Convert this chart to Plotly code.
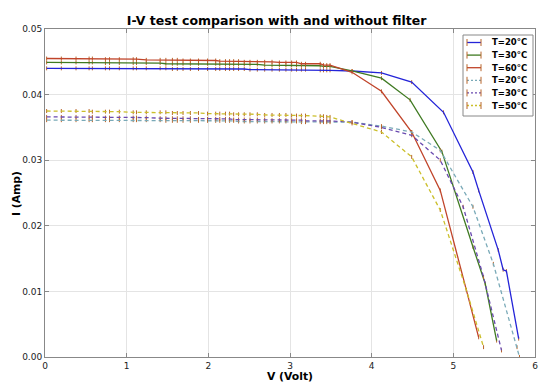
import plotly.graph_objects as go

# ---- data ----
v_flat = [0.02, 0.20, 0.38, 0.54, 0.58, 0.74, 0.79, 0.91, 1.08, 1.12,
          1.24, 1.41, 1.48, 1.56, 1.62, 1.69, 1.78, 1.88, 1.99, 2.09,
          2.14, 2.21, 2.26, 2.31, 2.37, 2.44, 2.51, 2.60, 2.69, 2.78,
          2.87, 2.95, 3.02, 3.08, 3.14, 3.19, 3.37, 3.41, 3.45, 3.49]

# without filter (solid)
v_s20 = v_flat + [3.76, 4.12, 4.49, 4.88, 5.24, 5.31, 5.55, 5.61, 5.65, 5.80]
i_s20 = [0.0440, 0.0440, 0.0440, 0.0440, 0.0440, 0.0440, 0.0440, 0.0440, 0.0440, 0.0440,
         0.0440, 0.0440, 0.0440, 0.0439, 0.0439, 0.0439, 0.0439, 0.0439, 0.0439, 0.0439,
         0.0439, 0.0439, 0.0439, 0.0439, 0.0439, 0.0439, 0.0438, 0.0438, 0.0438, 0.0438,
         0.0438, 0.0438, 0.0438, 0.0438, 0.0438, 0.0438, 0.0437, 0.0437, 0.0437, 0.0437] + \
        [0.0436, 0.0433, 0.0419, 0.0373, 0.0282, 0.0254, 0.0163, 0.0133, 0.0131, 0.0028]

v_s30 = v_flat + [3.76, 4.12, 4.47, 4.86, 5.24, 5.39, 5.53]
i_s30 = [0.0449, 0.0449, 0.0449, 0.0449, 0.0449, 0.0448, 0.0448, 0.0448, 0.0448, 0.0448,
         0.0448, 0.0448, 0.0447, 0.0447, 0.0447, 0.0447, 0.0447, 0.0447, 0.0447, 0.0447,
         0.0446, 0.0446, 0.0446, 0.0446, 0.0446, 0.0446, 0.0446, 0.0446, 0.0445, 0.0445,
         0.0445, 0.0445, 0.0445, 0.0445, 0.0444, 0.0444, 0.0444, 0.0443, 0.0443, 0.0443] + \
        [0.0436, 0.0425, 0.0392, 0.0313, 0.0168, 0.0112, 0.0025]

v_s60 = v_flat + [3.76, 4.12, 4.49, 4.84, 5.16, 5.31]
i_s60 = [0.0455, 0.0455, 0.0455, 0.0455, 0.0455, 0.0454, 0.0454, 0.0454, 0.0454, 0.0454,
         0.0453, 0.0453, 0.0453, 0.0453, 0.0453, 0.0452, 0.0452, 0.0452, 0.0452, 0.0452,
         0.0451, 0.0451, 0.0451, 0.0451, 0.0451, 0.0450, 0.0450, 0.0450, 0.0450, 0.0450,
         0.0449, 0.0449, 0.0449, 0.0449, 0.0447, 0.0447, 0.0447, 0.0445, 0.0445, 0.0445] + \
        [0.0434, 0.0405, 0.0343, 0.0254, 0.0102, 0.0030]

# with filter (dashed)
v_d20 = v_flat + [3.76, 4.12, 4.49, 4.84, 5.24, 5.49, 5.78, 5.81]
i_d20 = [0.0361, 0.0361, 0.0361, 0.0361, 0.0361, 0.0361, 0.0361, 0.0361, 0.0361, 0.0361,
         0.0361, 0.0361, 0.0360, 0.0360, 0.0360, 0.0360, 0.0360, 0.0360, 0.0360, 0.0360,
         0.0360, 0.0360, 0.0360, 0.0360, 0.0359, 0.0359, 0.0359, 0.0359, 0.0359, 0.0359,
         0.0359, 0.0359, 0.0359, 0.0359, 0.0358, 0.0358, 0.0358, 0.0358, 0.0358, 0.0358] + \
        [0.0358, 0.0352, 0.0343, 0.0315, 0.0229, 0.0142, 0.0015, 0.0000]

v_d30 = v_flat + [3.76, 4.12, 4.49, 4.84, 5.12, 5.37, 5.59]
i_d30 = [0.0366, 0.0366, 0.0366, 0.0366, 0.0366, 0.0365, 0.0365, 0.0365, 0.0365, 0.0365,
         0.0365, 0.0364, 0.0364, 0.0364, 0.0364, 0.0364, 0.0364, 0.0363, 0.0363, 0.0363,
         0.0363, 0.0363, 0.0363, 0.0362, 0.0362, 0.0362, 0.0362, 0.0362, 0.0362, 0.0361,
         0.0361, 0.0361, 0.0361, 0.0361, 0.0361, 0.0360, 0.0360, 0.0360, 0.0360, 0.0360] + \
        [0.0358, 0.0350, 0.0338, 0.0300, 0.0229, 0.0122, 0.0010]

v_d50 = v_flat + [3.76, 4.12, 4.49, 4.84, 5.16, 5.37]
i_d50 = [0.0375, 0.0375, 0.0375, 0.0375, 0.0374, 0.0374, 0.0374, 0.0374, 0.0373, 0.0373,
         0.0373, 0.0373, 0.0373, 0.0372, 0.0372, 0.0372, 0.0372, 0.0372, 0.0371, 0.0371,
         0.0371, 0.0371, 0.0371, 0.0370, 0.0370, 0.0370, 0.0370, 0.0370, 0.0369, 0.0369,
         0.0369, 0.0369, 0.0368, 0.0368, 0.0368, 0.0368, 0.0367, 0.0367, 0.0366, 0.0366] + \
        [0.0356, 0.0343, 0.0305, 0.0224, 0.0102, 0.0015]

err_i = 0.0003  # half-height of the small error ticks

names = ["T=20°C", "T=30°C", "T=60°C", "T=20°C", "T=30°C", "T=50°C"]
xs = [v_s20, v_s30, v_s60, v_d20, v_d30, v_d50]
ys = [i_s20, i_s30, i_s60, i_d20, i_d30, i_d50]
colors = ["#2424d8", "#3f7a22", "#c0442a", "#7aaab8", "#6a4ab0", "#cbbf2a"]
dashes = ["solid", "solid", "solid", "4px,3px", "4px,3px", "4px,3px"]
ecolor = "#b8652a"

# ---- layout geometry (pixels) ----
W, H = 550, 386
ML, MR, MT, MB = 45, 15, 29, 29
PW, PH = W - ML - MR, H - MT - MB


def px_x(px):
    return (px - ML) / PW


def px_y(py):
    return (H - MB - py) / PH


fig = go.Figure()
for x, y, n, c, d in zip(xs, ys, names, colors, dashes):
    fig.add_trace(go.Scatter(
        x=x, y=y, name=n, mode="lines", showlegend=False,
        line=dict(color=c, width=1.3, dash=d),
        error_y=dict(type="constant", value=err_i, color=ecolor,
                     thickness=1, width=0),
    ))

font_family = "DejaVu Sans"
shapes = []
annotations = []

# custom compact legend (matplotlib-like, errorbar glyphs)
lg_left, lg_right, lg_top, lg_bot = 463, 533, 35, 116
shapes.append(dict(type="rect", xref="paper", yref="paper",
                   x0=px_x(lg_left), x1=px_x(lg_right),
                   y0=px_y(lg_bot), y1=px_y(lg_top),
                   line=dict(color="#888", width=1), fillcolor="white", layer="above"))
for k, (n, c, d) in enumerate(zip(names, colors, dashes)):
    yc = 42.5 + 12.6 * k
    gx0, gx1 = 467, 481
    shapes.append(dict(type="line", xref="paper", yref="paper",
                       x0=px_x(gx0), x1=px_x(gx1), y0=px_y(yc), y1=px_y(yc),
                       line=dict(color=c, width=1.3, dash=("solid" if d == "solid" else "2px,2px")),
                       layer="above"))
    for gx in (gx0, gx1):
        shapes.append(dict(type="line", xref="paper", yref="paper",
                           x0=px_x(gx), x1=px_x(gx), y0=px_y(yc - 3.5), y1=px_y(yc + 3.5),
                           line=dict(color=ecolor, width=1), layer="above"))
    annotations.append(dict(text="<b>" + n + "</b>", xref="paper", yref="paper",
                            x=px_x(490), y=px_y(yc), xanchor="left", yanchor="middle",
                            showarrow=False,
                            font=dict(family=font_family, size=8.5, color="black")))

# axis titles
annotations.append(dict(text="<b>V (Volt)</b>", xref="paper", yref="paper",
                        x=px_x(290), y=px_y(376.5), xanchor="center", yanchor="middle",
                        showarrow=False,
                        font=dict(family=font_family, size=10.8, color="black")))
annotations.append(dict(text="<b>I (Amp)</b>", xref="paper", yref="paper",
                        x=px_x(16.5), y=px_y(193.5), xanchor="center", yanchor="middle",
                        textangle=-90, showarrow=False,
                        font=dict(family=font_family, size=10.8, color="black")))

fig.update_layout(
    width=W, height=H,
    margin=dict(l=ML, r=MR, t=MT, b=MB, autoexpand=False),
    paper_bgcolor="white", plot_bgcolor="white",
    font=dict(family=font_family, size=9, color="#222"),
    title=dict(text="<b>I-V test comparison with and without filter</b>",
               x=0.503, xanchor="center", y=1 - 21 / H, yanchor="middle",
               font=dict(family=font_family, size=12.5, color="black")),
    showlegend=False,
    shapes=shapes,
    annotations=annotations,
)
axis_common = dict(
    showline=True, linecolor="#888", linewidth=1, mirror="ticks",
    ticks="inside", ticklen=4, tickcolor="#888",
    showgrid=True, gridcolor="#e4e4e4", gridwidth=1,
    zeroline=False, automargin=False,
    tickfont=dict(family=font_family, size=9, color="#222"),
)
fig.update_xaxes(range=[0, 6], dtick=1, tick0=0, ticklabelstandoff=0, **axis_common)
fig.update_yaxes(range=[0, 0.05], dtick=0.01, tick0=0, tickformat=".2f", **axis_common)

fig.write_html("out.html",
               config={"displayModeBar": False},
               post_script="document.body.style.margin='0';document.body.style.padding='0';")
